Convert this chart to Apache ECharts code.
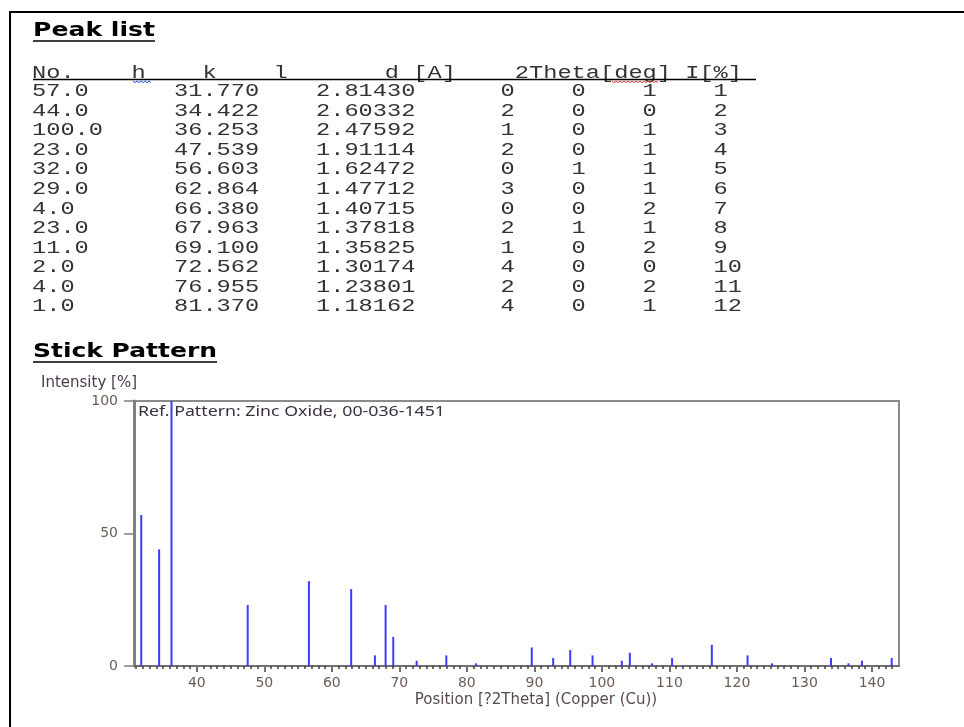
<!DOCTYPE html>
<html><head><meta charset="utf-8">
<script src="https://cdn.jsdelivr.net/npm/echarts@6/dist/echarts.min.js"></script>
<style>html,body{margin:0;padding:0;background:#fff}#c{width:964px;height:727px}</style>
</head><body><div id="c"></div>
<script>
// ---------- Peak list table ----------
const tableHeader = ['No.', 'h', 'k', 'l', 'd [A]', '2Theta[deg]', 'I[%]'];
const colIntensity = ['57.0','44.0','100.0','23.0','32.0','29.0','4.0','23.0','11.0','2.0','4.0','1.0'];
const colPosition = ['31.770','34.422','36.253','47.539','56.603','62.864','66.380','67.963','69.100','72.562','76.955','81.370'];
const colD = ['2.81430','2.60332','2.47592','1.91114','1.62472','1.47712','1.40715','1.37818','1.35825','1.30174','1.23801','1.18162'];
const colH = ['0','2','1','2','0','3','0','2','1','4','2','4'];
const colK = ['0','0','0','0','1','0','0','1','0','0','0','0'];
const colL = ['1','0','1','1','1','1','2','1','2','0','2','1'];
const colNo = ['1','2','3','4','5','6','7','8','9','10','11','12'];

// ---------- Stick pattern (ZnO 00-036-1451) ----------
const stickPos = [31.770, 34.422, 36.253, 47.539, 56.603, 62.864, 66.380, 67.963, 69.100, 72.562, 76.955, 81.370,
  89.607, 92.784, 95.304, 98.613, 102.946, 104.134, 107.430, 110.392, 116.279, 121.572, 125.188, 133.932, 136.520, 138.513, 142.918];
const stickInt = [57, 44, 100, 23, 32, 29, 4, 23, 11, 2, 4, 1,
  7, 3, 6, 4, 2, 5, 1, 3, 8, 4, 1, 3, 1, 2, 3];
const xTicks = [40, 50, 60, 70, 80, 90, 100, 110, 120, 130, 140];
const yTicks = [0, 50, 100];

const cv = document.createElement('canvas').getContext('2d');
function measure(text, font) { cv.font = font; return cv.measureText(text).width; }

function T(text, x, y, font, fill, sx, z) {
  return { type: 'text', x: x, y: y, scaleX: sx, z: z == null ? 10 : z, silent: true,
    style: { text: text, font: font, fill: fill, align: 'left', verticalAlign: 'middle' } };
}
function TW(text, x, y, font, fill, width, z) {
  return T(text, x, y, font, fill, width / measure(text, font), z);
}
function line(x1, y1, x2, y2, color, w) {
  return { type: 'line', silent: true, z: 10, shape: { x1: x1, y1: y1, x2: x2, y2: y2 }, style: { stroke: color, lineWidth: w } };
}
function squiggle(x1, x2, y, color) {
  const pts = [];
  let up = true;
  for (let x = x1; x <= x2; x += 2) { pts.push([x, up ? y : y + 1.6]); up = !up; }
  return { type: 'polyline', silent: true, z: 10, shape: { points: pts }, style: { stroke: color, lineWidth: 1, fill: null } };
}

const monoFont = '18px "Liberation Mono"';
const adv = 14.2;
const sxMono = adv / measure('0', monoFont);
const x0 = 32;
const colX = c => x0 + c * adv;
const rowY = i => 91.4 + i * 19.57;
const txtColor = '#333333';

const g = [];
// outer frame
g.push(line(10, 12, 964, 12, '#000', 2));
g.push(line(10, 11, 10, 727, '#000', 2));
// headings
const headFont = 'bold 19.5px "DejaVu Sans"';
g.push(TW('Peak list', 33, 30.5, headFont, '#000', 122));
g.push(line(33, 41, 155, 41, '#000', 1.5));
g.push(TW('Stick Pattern', 33, 352, headFont, '#000', 184));
g.push(line(33, 362, 217, 362, '#000', 1.5));
// table header
const headerCols = [0, 7, 12, 17, 24.85, 34, 46];
tableHeader.forEach((h, i) => g.push(T(h, colX(headerCols[i]), 73, monoFont, txtColor, sxMono)));
g.push(line(33, 79.5, 756, 79.5, '#000', 1.5));
g.push(squiggle(133, 151, 81, '#3050e0'));
g.push(squiggle(612, 658, 81, '#e03030'));
// table rows
const cols = [[colIntensity, 0], [colPosition, 10], [colD, 20], [colH, 33], [colK, 38], [colL, 43], [colNo, 48]];
for (let i = 0; i < colNo.length; i++) {
  cols.forEach(([arr, c]) => g.push(T(arr[i], colX(c), rowY(i), monoFont, txtColor, sxMono)));
}
// reference pattern caption inside plot (below sticks)
g.push(TW('Ref. Pattern: Zinc Oxide, 00-036-1451', 138, 412, '14px "Noto Sans"', '#3a3040', 307, 0));

const axisColor = '#808080';
const labelColor = '#6b5c55';
const option = {
  animation: false,
  backgroundColor: '#fff',
  grid: { left: 134, top: 401, width: 765, height: 265, show: true, borderColor: '#8a8a8a', borderWidth: 2, backgroundColor: 'transparent' },
  xAxis: {
    type: 'value', min: 30.7, max: 144, splitNumber: 11,
    axisLine: { show: true, onZero: false, lineStyle: { color: '#707070', width: 2 } },
    axisTick: { show: true, customValues: xTicks, length: 6, lineStyle: { color: '#707070', width: 2 } },
    minorTick: { show: true, splitNumber: 10, length: 3, lineStyle: { color: '#404040', width: 1.5 } },
    axisLabel: { customValues: xTicks, margin: 10, color: labelColor, fontFamily: 'DejaVu Sans', fontSize: 14 },
    splitLine: { show: false },
    name: 'Position [?2Theta] (Copper (Cu))', nameLocation: 'middle', nameGap: 27,
    nameTextStyle: { color: '#5a4a50', fontFamily: 'DejaVu Sans', fontSize: 15, padding: [0, 0, 0, 39] }
  },
  yAxis: {
    type: 'value', min: 0, max: 100, interval: 50,
    axisLine: { show: true, lineStyle: { color: axisColor, width: 3 } },
    axisTick: { show: true, customValues: yTicks, length: 10, lineStyle: { color: axisColor, width: 1.5 } },
    axisLabel: { customValues: yTicks, margin: 16, color: labelColor, fontFamily: 'DejaVu Sans', fontSize: 14 },
    splitLine: { show: false },
    name: 'Intensity [%]', nameLocation: 'end', nameGap: 10,
    nameTextStyle: { color: '#4a3c4a', fontFamily: 'DejaVu Sans', fontSize: 15, align: 'right', padding: [0, -3, 0, 0] }
  },
  series: [{
    type: 'bar', barWidth: 2, z: 3, silent: true,
    itemStyle: { color: '#3b3bff' },
    data: stickPos.map((p, i) => [p, stickInt[i]])
  }],
  graphic: { elements: g }
};
const chart = echarts.init(document.getElementById('c'), null, { renderer: 'canvas' });
chart.setOption(option);
</script>
</body></html>
